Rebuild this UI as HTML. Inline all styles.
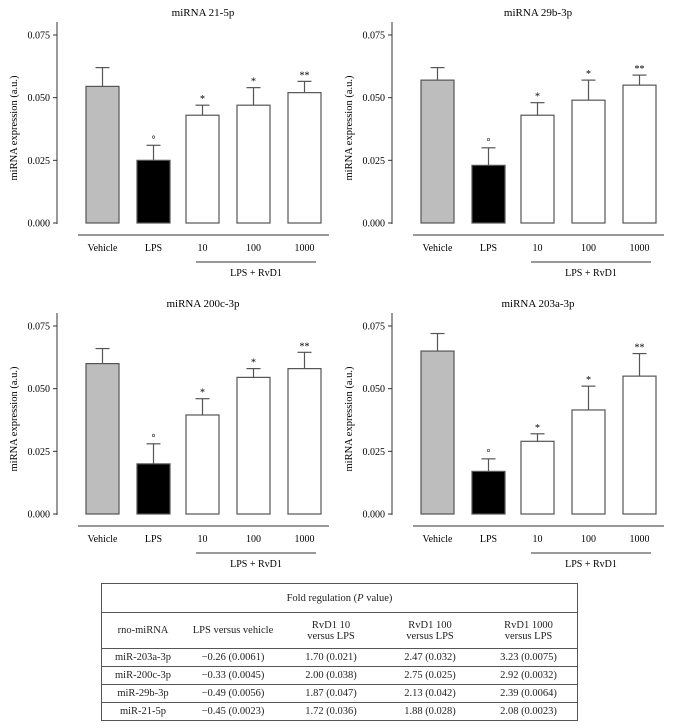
<!DOCTYPE html>
<html><head><meta charset="utf-8">
<style>
body{margin:0;background:#fff;width:674px;height:728px;overflow:hidden;font-family:"Liberation Serif",serif;}
svg{position:absolute;left:0;top:0}
table{position:absolute;left:101px;top:583px;width:477px;border-collapse:collapse;font-size:10.5px;color:#222;}
td{text-align:center;padding:0;border-top:1px solid #555;line-height:11px}
table{border:1px solid #555}
</style></head><body>
<svg id="chart" width="674" height="580"></svg>
<table>
<tr style="height:29px"><td colspan="5">Fold regulation (<i>P</i> value)</td></tr>
<tr style="height:36px"><td style="width:82px">rno-miRNA</td><td style="width:98px">LPS versus vehicle</td><td style="width:98px">RvD1 10<br>versus LPS</td><td style="width:100px">RvD1 100<br>versus LPS</td><td>RvD1 1000<br>versus LPS</td></tr>
<tr style="height:18px"><td>miR-203a-3p</td><td>−0.26 (0.0061)</td><td>1.70 (0.021)</td><td>2.47 (0.032)</td><td>3.23 (0.0075)</td></tr>
<tr style="height:18px"><td>miR-200c-3p</td><td>−0.33 (0.0045)</td><td>2.00 (0.038)</td><td>2.75 (0.025)</td><td>2.92 (0.0032)</td></tr>
<tr style="height:18px"><td>miR-29b-3p</td><td>−0.49 (0.0056)</td><td>1.87 (0.047)</td><td>2.13 (0.042)</td><td>2.39 (0.0064)</td></tr>
<tr style="height:18px"><td>miR-21-5p</td><td>−0.45 (0.0023)</td><td>1.72 (0.036)</td><td>1.88 (0.028)</td><td>2.08 (0.0023)</td></tr>
</table>
<script>
const categories=["Vehicle","LPS","10","100","1000"];
const titles=["miRNA 21-5p","miRNA 29b-3p","miRNA 200c-3p","miRNA 203a-3p"];
const means21=[0.0545,0.025,0.043,0.047,0.052];
const err21=[0.0075,0.006,0.004,0.007,0.0045];
const means29=[0.057,0.023,0.043,0.049,0.055];
const err29=[0.005,0.007,0.005,0.008,0.004];
const means200=[0.060,0.020,0.0395,0.0545,0.058];
const err200=[0.006,0.008,0.0065,0.0035,0.0065];
const means203=[0.065,0.017,0.029,0.0415,0.055];
const err203=[0.007,0.005,0.003,0.0095,0.009];
const marks=["","°","*","*","**"];
const yTicks=[0,0.025,0.05,0.075];
const yTickLabels=["0.000","0.025","0.050","0.075"];
const fills=["#bdbdbd","#000","#fff","#fff","#fff"];
const svg=document.getElementById('chart');
const NS="http://www.w3.org/2000/svg";
function mk(t,a,p){const e=document.createElementNS(NS,t);for(const k in a)e.setAttribute(k,a[k]);(p||svg).appendChild(e);return e;}
const barX=[86,137,186,237,288],barW=33;
const panels=[[0,0,means21,err21],[335,0,means29,err29],[0,291,means200,err200],[335,291,means203,err203]];
panels.forEach((p,i)=>{
 const [ox,oy,m,er]=p;
 const g=mk('g',{transform:`translate(${ox},${oy})`});
 
 
 const y=v=>223-v/0.075*188;
 const t=mk('text',{x:203,y:16,'text-anchor':'middle','font-size':'11'},g);t.textContent=titles[i];
 
 mk('line',{x1:57,y1:22,x2:57,y2:224,stroke:'#333'},g);
 yTicks.forEach((v,j)=>{mk('line',{x1:53,x2:57,y1:y(v),y2:y(v),stroke:'#333'},g);
  const l=mk('text',{x:50,y:y(v)+3.5,'text-anchor':'end','font-size':'10'},g);l.textContent=yTickLabels[j];
  });
 const yl=mk('text',{transform:`translate(17,128) rotate(-90)`,'text-anchor':'middle','font-size':'10.5'},g);yl.textContent="miRNA expression (a.u.)";
 
 categories.forEach((c,j)=>{
  const x=barX[j],top=y(m[j]),cx=x+barW/2,et=y(m[j]+er[j]);
  mk('line',{x1:cx,x2:cx,y1:top,y2:et,stroke:'#555','stroke-width':1.2},g);
  mk('line',{x1:cx-7,x2:cx+7,y1:et,y2:et,stroke:'#555','stroke-width':1.2},g);
  const b=mk('rect',{x:x,y:top,width:barW,height:223-top,fill:fills[j],stroke:'#555','stroke-width':1.2},g);
  
  if(marks[j]){const s=mk('text',{x:cx,y:et-3,'text-anchor':'middle','font-size':'10'},g);s.textContent=marks[j];
   }
  const l=mk('text',{x:cx,y:251,'text-anchor':'middle','font-size':'10'},g);l.textContent=c;
  
 });
 mk('line',{x1:78,x2:329,y1:235,y2:235,stroke:'#333'},g);
 mk('line',{x1:196,x2:316,y1:262,y2:262,stroke:'#333'},g);
 const gl=mk('text',{x:256,y:276,'text-anchor':'middle','font-size':'10'},g);gl.textContent="LPS + RvD1";
 
});
</script>
</body></html>
